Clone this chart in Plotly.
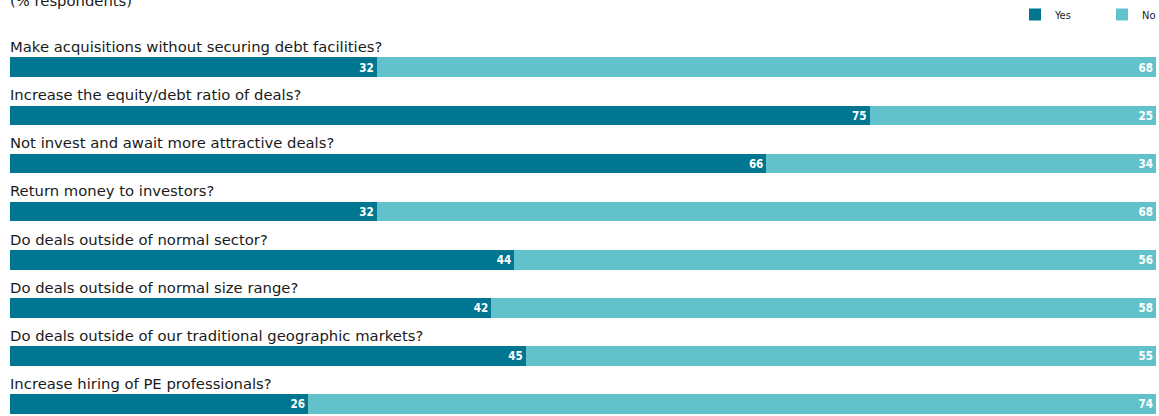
import plotly.graph_objects as go

questions = [
    "Make acquisitions without securing debt facilities?",
    "Increase the equity/debt ratio of deals?",
    "Not invest and await more attractive deals?",
    "Return money to investors?",
    "Do deals outside of normal sector?",
    "Do deals outside of normal size range?",
    "Do deals outside of our traditional geographic markets?",
    "Increase hiring of PE professionals?",
]
yes_vals = [32, 75, 66, 32, 44, 42, 45, 26]
no_vals = [68, 25, 34, 68, 56, 58, 55, 74]

YES_COLOR = "#007690"
NO_COLOR = "#62C2CB"
FONT = "DejaVu Sans"

pos = list(range(len(questions)))

fig = go.Figure()
for name, vals, col in [("Yes", yes_vals, YES_COLOR), ("No", no_vals, NO_COLOR)]:
    fig.add_trace(go.Bar(
        name=name, y=pos, x=vals, orientation="h", marker_color=col,
        marker_line_width=0, width=0.41,
        text=[str(v) for v in vals], textposition="inside", insidetextanchor="end",
        textangle=0,
        textfont=dict(color="white", size=13.5, family="DejaVu Sans Condensed", weight="bold"),
        cliponaxis=False,
    ))

for i, q in enumerate(questions):
    fig.add_annotation(x=0, y=i - 0.43, xref="x", yref="y", text=q, showarrow=False,
                       xanchor="left", yanchor="middle", xshift=-2,
                       font=dict(size=14.8, color="#1a1a1a", family=FONT))

fig.add_annotation(x=0, y=1, xref="x", yref="paper", text="(% respondents)", showarrow=False,
                   xanchor="left", yanchor="middle", xshift=-2, yshift=0,
                   font=dict(size=14.8, color="#1a1a1a", family=FONT))

fig.update_layout(
    barmode="stack",
    width=1159, height=416,
    margin=dict(l=10, r=3, t=0, b=0, autoexpand=False),
    paper_bgcolor="white", plot_bgcolor="white",
    xaxis=dict(range=[0, 100], visible=False),
    yaxis=dict(range=[7.25, -1.40], visible=False),
    showlegend=True,
    legend=dict(orientation="h", x=(1030 - 14 - 10 - 1) / 1146, xanchor="left", y=1, yanchor="top",
                entrywidth=42, entrywidthmode="pixels",
                font=dict(size=11, family="DejaVu Sans Condensed", color="#1a1a1a"),
                bgcolor="rgba(0,0,0,0)", traceorder="normal"),
)

fig.write_html("out.html")
